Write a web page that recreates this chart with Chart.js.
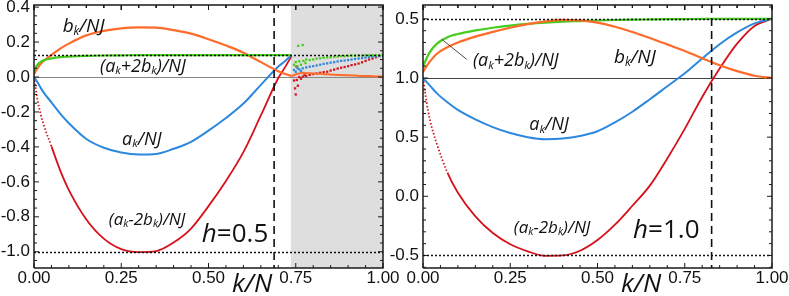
<!DOCTYPE html>
<html>
<head>
<meta charset="utf-8">
<script src="https://cdn.jsdelivr.net/npm/chart.js@4.4.0/dist/chart.umd.min.js"></script>
<style>
  html, body { margin: 0; padding: 0; background: #fff; }
  #wrap { position: relative; width: 789px; height: 296px; overflow: hidden; }
  canvas { position: absolute; top: 0; }
  #left { left: 0; }
  #right { left: 390px; }
</style>
</head>
<body>
<div id="wrap">
  <canvas id="left" width="400" height="296"></canvas>
  <canvas id="right" width="399" height="296"></canvas>
</div>
<script>
// ---- h = 0.5 panel ----
const kLeft   = [0, 0.005, 0.01, 0.02, 0.03, 0.05, 0.075, 0.1, 0.15, 0.2, 0.25, 0.3, 0.35, 0.4, 0.45, 0.5, 0.55, 0.6, 0.65, 0.7, 0.72, 0.738];
const aLeft   = [0, -0.015, -0.03, -0.065, -0.095, -0.145, -0.21, -0.265, -0.355, -0.405, -0.432, -0.443, -0.44, -0.411, -0.371, -0.307, -0.235, -0.152, -0.045, 0.06, 0.092, 0.125];
const bLeft   = [0.015, 0.035, 0.05, 0.077, 0.096, 0.126, 0.162, 0.191, 0.238, 0.264, 0.278, 0.284, 0.283, 0.268, 0.248, 0.216, 0.18, 0.139, 0.085, 0.033, 0.017, 0.006];
const sumLeft = [0.03, 0.055, 0.07, 0.088, 0.097, 0.107, 0.114, 0.117, 0.121, 0.123, 0.124, 0.125, 0.125, 0.125, 0.125, 0.125, 0.125, 0.125, 0.125, 0.125, 0.125, 0.125];
const difLeft = [0, -0.065, -0.13, -0.22, -0.287, -0.397, -0.534, -0.647, -0.815, -0.925, -0.985, -1.002, -0.996, -0.947, -0.867, -0.739, -0.595, -0.43, -0.22, -0.006, 0.058, 0.12];

// noisy numerics inside the grey band, [k/N, value]
const bNoise = [[0.738, 0.006], [0.745, 0.01], [0.75, 0.015], [0.76, 0.02], [0.77, 0.025], [0.78, 0.022], [0.79, 0.021], [0.8, 0.02], [0.82, 0.018], [0.84, 0.016], [0.86, 0.013], [0.88, 0.011], [0.9, 0.01], [0.92, 0.008], [0.94, 0.006], [0.96, 0.005], [0.98, 0.003], [1.0, 0.002]];
const sumNoise = [[0.745, 0.07], [0.75, 0.085], [0.755, 0.06], [0.757, 0.178], [0.76, 0.09], [0.765, 0.07], [0.77, 0.183], [0.772, 0.092], [0.778, 0.08], [0.78, 0.1], [0.79, 0.097], [0.8, 0.1], [0.81, 0.105], [0.82, 0.107], [0.83, 0.11], [0.84, 0.112], [0.85, 0.113], [0.86, 0.116], [0.87, 0.117], [0.88, 0.12], [0.89, 0.119], [0.9, 0.121], [0.91, 0.123], [0.92, 0.122], [0.93, 0.124], [0.94, 0.123], [0.95, 0.125], [0.96, 0.124], [0.97, 0.125], [0.98, 0.126], [0.99, 0.125], [1.0, 0.125]];
const aNoise = [[0.745, 0.04], [0.75, 0.03], [0.755, 0.05], [0.76, 0.044], [0.765, 0.035], [0.77, 0.05], [0.78, 0.055], [0.79, 0.059], [0.8, 0.062], [0.81, 0.066], [0.82, 0.07], [0.83, 0.075], [0.84, 0.078], [0.85, 0.082], [0.86, 0.085], [0.87, 0.089], [0.88, 0.092], [0.89, 0.094], [0.9, 0.097], [0.91, 0.1], [0.92, 0.103], [0.93, 0.106], [0.94, 0.108], [0.95, 0.111], [0.96, 0.113], [0.97, 0.116], [0.98, 0.118], [0.99, 0.12], [1.0, 0.122]];
const difNoise = [[0.745, -0.02], [0.748, -0.065], [0.75, -0.1], [0.752, 0.06], [0.753, -0.017], [0.756, -0.05], [0.76, 0.0], [0.765, -0.01], [0.77, 0.002], [0.775, 0.01], [0.78, 0.005], [0.79, 0.012], [0.8, 0.017], [0.81, 0.02], [0.82, 0.024], [0.83, 0.028], [0.84, 0.03], [0.85, 0.037], [0.86, 0.042], [0.87, 0.048], [0.88, 0.053], [0.89, 0.057], [0.9, 0.062], [0.91, 0.068], [0.92, 0.072], [0.93, 0.077], [0.94, 0.084], [0.95, 0.092], [0.96, 0.1], [0.97, 0.106], [0.98, 0.113], [0.99, 0.12], [1.0, 0.126]];

// ---- h = 1.0 panel ----
const kRight   = [0, 0.005, 0.01, 0.02, 0.04, 0.07, 0.1, 0.15, 0.2, 0.25, 0.3, 0.35, 0.4, 0.45, 0.5, 0.55, 0.6, 0.65, 0.7, 0.75, 0.8, 0.85, 0.9, 0.95, 1.0];
const aRight   = [0, -0.017, -0.033, -0.065, -0.13, -0.205, -0.27, -0.35, -0.415, -0.465, -0.5, -0.517, -0.512, -0.49, -0.45, -0.375, -0.285, -0.18, -0.07, 0.04, 0.165, 0.285, 0.385, 0.462, 0.5];
const bRight   = [0.05, 0.074, 0.099, 0.14, 0.205, 0.26, 0.3, 0.35, 0.39, 0.425, 0.455, 0.478, 0.492, 0.487, 0.468, 0.433, 0.389, 0.338, 0.284, 0.229, 0.167, 0.108, 0.058, 0.019, 0.0];
const sumRight = [0.09, 0.13, 0.165, 0.22, 0.29, 0.345, 0.372, 0.402, 0.425, 0.443, 0.457, 0.468, 0.476, 0.481, 0.486, 0.49, 0.493, 0.495, 0.497, 0.498, 0.499, 0.5, 0.5, 0.5, 0.5];
const difRight = [0, -0.1, -0.2, -0.356, -0.56, -0.8, -0.97, -1.17, -1.31, -1.405, -1.465, -1.503, -1.5, -1.46, -1.37, -1.24, -1.08, -0.91, -0.68, -0.43, -0.16, 0.08, 0.29, 0.44, 0.5];

// axes
const xTicks = [0, 0.25, 0.5, 0.75, 1.0];
const yTicksLeft = [-1.0, -0.8, -0.6, -0.4, -0.2, 0.0, 0.2, 0.4];
const yTicksRight = [-1.5, -1.0, -0.5, 0.0, 0.5];
const yLabelsRight = ['-0.5', '0.0', '0.5', '1.0', '0.5'];

const ORANGE = '#ff6b2a', GREEN = '#46cc1c', BLUE = '#2e88de', RED = '#d5121b', INK = '#1a1a1a';
const FONT = "'Open Sans', 'Noto Sans', sans-serif";
const TICKFONT = "'Liberation Sans', Arial, sans-serif";
const PLOT_W = 349, PLOT_H = 263;   // plot box size in px, used for tick lengths

const lbB   = [['b', 'i'], ['k', 's'], ['/NJ', 'i']];
const lbA   = [['a', 'i'], ['k', 's'], ['/NJ', 'i']];
const lbSum = [['(a', 'i'], ['k', 's'], ['+2b', 'i'], ['k', 's'], [')/NJ', 'i']];
const lbDif = [['(a', 'i'], ['k', 's'], ['-2b', 'i'], ['k', 's'], [')/NJ', 'i']];

function pts(ks, vs) { return ks.map((k, i) => ({ x: k, y: vs[i] })); }
function pairs(arr) { return arr.map(p => ({ x: p[0], y: p[1] })); }

// frame of the plot box, drawn as a library line through the four corners
function frameData(yMin, yMax) {
  return [{ x: 0, y: yMin }, { x: 1, y: yMin }, { x: 1, y: yMax }, { x: 0, y: yMax }, { x: 0, y: yMin }];
}
// inward ticks as short line pieces separated by gaps
function tickData(yMin, yMax, yStep, yPer, yFrom, yTo) {
  const d = [];
  const dy = (yMax - yMin) / PLOT_H, dx = 1 / PLOT_W;
  for (let i = 0; i <= 20; i++) {
    const v = i * 0.05, len = (i % 5 === 0 ? 5 : 3) * dy;
    d.push({ x: v, y: yMin }, { x: v, y: yMin + len }, { x: v, y: null });
    d.push({ x: v, y: yMax }, { x: v, y: yMax - len }, { x: v, y: null });
  }
  for (let i = yFrom; i <= yTo; i++) {
    const v = i * yStep;
    if (v < yMin || v > yMax) continue;
    const len = (i % yPer === 0 ? 5 : 3) * dx;
    d.push({ x: 0, y: v }, { x: len, y: v }, { x: 0, y: null });
    d.push({ x: 1, y: v }, { x: 1 - len, y: v }, { x: 1, y: null });
  }
  return d;
}

function drawRich(ctx, parts, x, yb, size, align) {
  const fontFor = s => s === 's' ? `italic ${size * 0.62}px ${FONT}` : (s === 'r' ? `${size}px ${FONT}` : `italic ${size}px ${FONT}`);
  let w = 0;
  parts.forEach(p => { ctx.font = fontFor(p[1]); w += ctx.measureText(p[0]).width; });
  let xp = align === 'left' ? x : x - w / 2;
  ctx.textAlign = 'left';
  ctx.textBaseline = 'alphabetic';
  parts.forEach(p => {
    ctx.font = fontFor(p[1]);
    ctx.fillText(p[0], xp, yb + (p[1] === 's' ? size * 0.14 : 0));
    xp += ctx.measureText(p[0]).width;
  });
}

function hline(ctx, x0, x1, y) { ctx.beginPath(); ctx.moveTo(x0, y); ctx.lineTo(x1, y); ctx.stroke(); }

function deco(cfg) {
  return {
    id: 'deco',
    beforeDatasetsDraw(chart) {
      const { ctx, chartArea: ca, scales: { x, y } } = chart;
      ctx.save();
      if (cfg.shade !== undefined) {
        const x0 = x.getPixelForValue(cfg.shade);
        ctx.fillStyle = '#dedede';
        ctx.fillRect(x0, ca.top, ca.right - x0, ca.bottom - ca.top);
      }
      ctx.strokeStyle = cfg.zeroColor;
      ctx.lineWidth = 1;
      hline(ctx, ca.left, ca.right, Math.round(y.getPixelForValue(0)) + 0.5);
      ctx.restore();
    },
    afterDraw(chart) {
      const { ctx, chartArea: ca, scales: { x, y } } = chart;

      ctx.save();
      ctx.strokeStyle = '#111';
      ctx.lineWidth = 1.5;
      ctx.setLineDash([2, 2]);
      cfg.dotted.forEach(v => hline(ctx, ca.left, ca.right, Math.round(y.getPixelForValue(v)) + 0.5));
      ctx.restore();

      ctx.save();
      ctx.strokeStyle = '#111';
      ctx.setLineDash([8, 5]);
      ctx.lineWidth = 1.6;
      const px = x.getPixelForValue(cfg.kc);
      ctx.beginPath(); ctx.moveTo(px, ca.top); ctx.lineTo(px, ca.bottom); ctx.stroke();
      ctx.restore();

      if (cfg.leader) {
        ctx.save();
        ctx.lineWidth = 0.9;
        ctx.strokeStyle = '#333';
        ctx.beginPath();
        ctx.moveTo(x.getPixelForValue(cfg.leader[0]), y.getPixelForValue(cfg.leader[1]));
        ctx.lineTo(x.getPixelForValue(cfg.leader[2]), y.getPixelForValue(cfg.leader[3]));
        ctx.stroke();
        ctx.restore();
      }

      ctx.save();
      ctx.fillStyle = '#111';
      cfg.labels.forEach(l => drawRich(ctx, l.parts, x.getPixelForValue(l.x), y.getPixelForValue(l.y), l.size, l.align));
      drawRich(ctx, [['k/N', 'i']], x.getPixelForValue(0.625), 292, 26, 'center');
      drawRich(ctx, [['h', 'i'], ['=' + cfg.hText, 'r']], x.getPixelForValue(cfg.hPos[0]), y.getPixelForValue(cfg.hPos[1]), 26, 'left');
      ctx.restore();
    }
  };
}

function lineSet(data, color, width, extra) {
  return Object.assign({
    data: data, borderColor: color, backgroundColor: color, borderWidth: width,
    pointRadius: 0, fill: false, cubicInterpolationMode: 'monotone'
  }, extra || {});
}
function dotSet(data, color) {
  return { data: data, showLine: false, pointRadius: 1.6, pointStyle: 'rect', borderWidth: 0, backgroundColor: color, borderColor: color };
}
function boxSets(yMin, yMax, yStep, yPer, yFrom, yTo) {
  return [
    { data: frameData(yMin, yMax), borderColor: INK, borderWidth: 1.5, pointRadius: 0, tension: 0, fill: false, clip: false },
    { data: tickData(yMin, yMax, yStep, yPer, yFrom, yTo), borderColor: INK, borderWidth: 1, pointRadius: 0, tension: 0, fill: false, spanGaps: false, clip: false }
  ];
}

function makeChart(id, datasets, yMin, yMax, yTicks, yLabel, padRight, yAxisW, cfg) {
  const tickFont = { family: TICKFONT, size: 17 };
  return new Chart(document.getElementById(id), {
    type: 'line',
    data: { datasets: datasets },
    options: {
      responsive: false, animation: false, events: [], devicePixelRatio: 1,
      layout: { autoPadding: false, padding: { top: 5, right: padRight, left: 0, bottom: 0 } },
      plugins: { legend: { display: false }, tooltip: { enabled: false } },
      scales: {
        x: {
          type: 'linear', min: 0, max: 1,
          grid: { display: false, drawTicks: false }, border: { display: false },
          afterBuildTicks: s => { s.ticks = xTicks.map(v => ({ value: v })); },
          afterFit: s => { s.height = 28; s.paddingLeft = 0; s.paddingRight = 0; },
          ticks: { padding: 0, maxRotation: 0, color: '#111', font: tickFont, callback: v => v.toFixed(2) }
        },
        y: {
          type: 'linear', min: yMin, max: yMax,
          grid: { display: false, drawTicks: false }, border: { display: false },
          afterBuildTicks: s => { s.ticks = yTicks.map(v => ({ value: v })); },
          afterFit: s => { s.width = yAxisW; s.paddingTop = 0; s.paddingBottom = 0; },
          ticks: { padding: 4, color: '#111', font: tickFont, callback: yLabel }
        }
      }
    },
    plugins: [deco(cfg)]
  });
}

const L_MIN = -1.093, L_MAX = 0.412, R_MIN = -1.606, R_MAX = 0.617;

makeChart('left', boxSets(L_MIN, L_MAX, 0.05, 4, -22, 8).concat([
  lineSet(pts(kLeft, sumLeft), GREEN, 2.2),
  lineSet(pts(kLeft, bLeft), ORANGE, 2.2),
  lineSet(pairs(bNoise), ORANGE, 2),
  lineSet(pts(kLeft, aLeft), BLUE, 2),
  lineSet(pts(kLeft, difLeft), RED, 1.8, { segment: { borderDash: c => c.p1.parsed.x <= 0.05 ? [1.5, 2] : undefined } }),
  dotSet(pairs(sumNoise), GREEN),
  dotSet(pairs(aNoise), BLUE),
  dotSet(pairs(difNoise), RED)
]), L_MIN, L_MAX, yTicksLeft, v => v.toFixed(1), 17, 34, {
  shade: 0.736, zeroColor: '#888', dotted: [0.125, -1.0], kc: 0.688,
  hText: '0.5', hPos: [0.481, -0.943],
  labels: [
    { parts: lbB, x: 0.142, y: 0.255, size: 19 },
    { parts: lbSum, x: 0.312, y: 0.029, size: 18 },
    { parts: lbA, x: 0.309, y: -0.389, size: 18 },
    { parts: lbDif, x: 0.324, y: -0.846, size: 17 }
  ]
});

makeChart('right', boxSets(R_MIN, R_MAX, 0.1, 5, -16, 6).concat([
  lineSet(pts(kRight, bRight), ORANGE, 2.2),
  lineSet(pts(kRight, sumRight), GREEN, 2.2),
  lineSet(pts(kRight, aRight), BLUE, 2),
  lineSet(pts(kRight, difRight), RED, 1.8, { segment: { borderDash: c => c.p1.parsed.x <= 0.07 ? [1.5, 2] : undefined } })
]), R_MIN, R_MAX, yTicksRight, (v, i) => yLabelsRight[i], 17, 33, {
  zeroColor: '#444', dotted: [0.5, -1.5], kc: 0.827,
  hText: '1.0', hPos: [0.602, -1.352],
  leader: [0.054, 0.327, 0.125, 0.158],
  labels: [
    { parts: lbSum, x: 0.266, y: 0.101, size: 18 },
    { parts: lbB, x: 0.607, y: 0.127, size: 19 },
    { parts: lbA, x: 0.361, y: -0.44, size: 18 },
    { parts: lbDif, x: 0.37, y: -1.31, size: 17 }
  ]
});
</script>
</body>
</html>
